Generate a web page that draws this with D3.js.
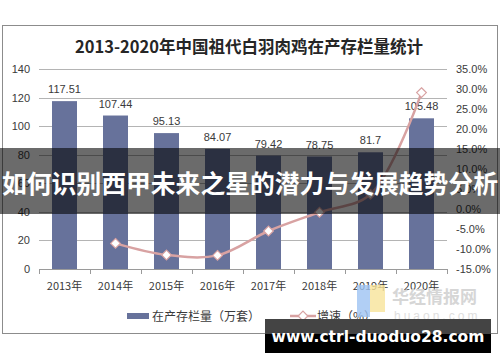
<!DOCTYPE html>
<html>
<head>
<meta charset="utf-8">
<script src="https://cdn.jsdelivr.net/npm/d3@7"></script>
<style>
  html, body { margin: 0; padding: 0; background: #fff; }
  svg { display: block; }
</style>
</head>
<body>
<div id="chart"></div>
<script>
// data
const years = ['2013年', '2014年', '2015年', '2016年', '2017年', '2018年', '2019年', '2020年'];
const stock = [117.51, 107.44, 95.13, 84.07, 79.42, 78.75, 81.7, 105.48];
const growth = [null, -8.6, -11.5, -11.6, -5.5, -0.8, 3.7, 29.1];
const leftTicks = [0, 20, 40, 60, 80, 100, 120, 140];
const rightTicks = [-15, -10, -5, 0, 5, 10, 15, 20, 25, 30, 35];

const width = 500;
const height = 362;
const barColor = '#67729b';
const lineColor = '#d8a2a2';
const textColor = '#3a3a3a';
const latin = 'Liberation Sans, Arial, sans-serif';
const cjk = '"Noto Sans CJK SC", sans-serif';

const svg = d3.select('#chart')
    .append('svg')
    .attr('width', width)
    .attr('height', height);

// outer frame
svg.append('rect')
    .attr('x', 2.5).attr('y', 25.5)
    .attr('width', 495).attr('height', 308)
    .attr('fill', '#fff')
    .attr('stroke', '#8c8c8c');

// title
svg.append('text')
    .attr('x', 249).attr('y', 53)
    .attr('text-anchor', 'middle')
    .style('font-family', cjk)
    .style('font-size', '16.5px')
    .style('font-weight', 'bold')
    .style('fill', '#262626')
    .text('2013-2020年中国祖代白羽肉鸡在产存栏量统计');

// scales
const x = d3.scaleBand().domain(years).range([39, 447]);
const yLeft = d3.scaleLinear().domain([0, 140]).range([269, 69]);
const yRight = d3.scaleLinear().domain([-15, 35]).range([269, 69]);

// gridlines
svg.append('g')
    .selectAll('line')
    .data(leftTicks.filter(d => d > 0))
    .join('line')
    .attr('x1', 39).attr('x2', 447)
    .attr('y1', d => Math.round(yLeft(d)) + 0.5)
    .attr('y2', d => Math.round(yLeft(d)) + 0.5)
    .attr('stroke', '#b4b4b4');

// left axis
const axL = svg.append('g')
    .attr('transform', 'translate(30,0)')
    .call(d3.axisLeft(yLeft).tickValues(leftTicks).tickSize(0).tickPadding(0));
axL.select('.domain').remove();
axL.selectAll('text')
    .style('font-family', latin)
    .style('font-size', '11px')
    .style('fill', textColor);

// right axis
const axR = svg.append('g')
    .attr('transform', 'translate(456,0)')
    .call(d3.axisRight(yRight).tickValues(rightTicks).tickSize(0).tickPadding(0)
        .tickFormat(d => d.toFixed(1) + '%'));
axR.select('.domain').remove();
axR.selectAll('text')
    .style('font-family', latin)
    .style('font-size', '11px')
    .style('fill', textColor);

// bars
const bw = x.bandwidth();
svg.append('g')
    .selectAll('rect')
    .data(stock)
    .join('rect')
    .attr('x', (d, i) => x(years[i]) + bw * 0.255)
    .attr('width', bw * 0.49)
    .attr('y', d => yLeft(d))
    .attr('height', d => yLeft(0) - yLeft(d))
    .attr('fill', barColor);

// bar labels
svg.append('g')
    .selectAll('text')
    .data(stock)
    .join('text')
    .attr('x', (d, i) => x(years[i]) + bw / 2)
    .attr('y', d => yLeft(d) - 8)
    .attr('text-anchor', 'middle')
    .style('font-family', latin)
    .style('font-size', '11px')
    .style('fill', textColor)
    .text(d => d);

// x axis
const axX = svg.append('g')
    .attr('transform', 'translate(0,269)')
    .call(d3.axisBottom(x).tickSize(0).tickPadding(13));
axX.select('.domain').attr('stroke', '#9a9a9a');
axX.selectAll('text')
    .style('font-family', cjk)
    .style('font-size', '11px')
    .style('fill', textColor);
svg.append('g')
    .selectAll('line')
    .data(years.concat(['end']))
    .join('line')
    .attr('x1', (d, i) => Math.round(39 + i * bw) + 0.5)
    .attr('x2', (d, i) => Math.round(39 + i * bw) + 0.5)
    .attr('y1', 269).attr('y2', 274)
    .attr('stroke', '#9a9a9a');

// growth line
const pts = growth.map((g, i) => ({ x: x(years[i]) + bw / 2, g: g }));
const line = d3.line()
    .defined(d => d.g !== null)
    .x(d => d.x)
    .y(d => yRight(d.g))
    .curve(d3.curveCatmullRom);
svg.append('path')
    .datum(pts)
    .attr('d', line)
    .attr('fill', 'none')
    .attr('stroke', lineColor)
    .attr('stroke-width', 2.5);

const diamond = d3.symbol().type(d3.symbolDiamond2).size(60);
svg.append('g')
    .selectAll('path')
    .data(pts.filter(d => d.g !== null))
    .join('path')
    .attr('transform', d => `translate(${d.x},${yRight(d.g)})`)
    .attr('d', diamond)
    .attr('fill', '#fff')
    .attr('stroke', lineColor)
    .attr('stroke-width', 1.2);

// legend
svg.append('rect')
    .attr('x', 127).attr('y', 313)
    .attr('width', 22).attr('height', 6)
    .attr('fill', barColor);
svg.append('text')
    .attr('x', 152).attr('y', 321)
    .style('font-family', cjk)
    .style('font-size', '12px')
    .style('fill', textColor)
    .text('在产存栏量（万套）');
svg.append('line')
    .attr('x1', 290).attr('x2', 316)
    .attr('y1', 316).attr('y2', 316)
    .attr('stroke', lineColor)
    .attr('stroke-width', 2.5);
svg.append('path')
    .attr('transform', 'translate(303,316)')
    .attr('d', diamond)
    .attr('fill', '#fff')
    .attr('stroke', lineColor)
    .attr('stroke-width', 1.2);
svg.append('text')
    .attr('x', 317).attr('y', 321)
    .style('font-family', cjk)
    .style('font-size', '12px')
    .style('fill', textColor)
    .text('增速（%）');

// faint source watermark
svg.append('rect')
    .attr('x', 357).attr('y', 285).attr('width', 13).attr('height', 32)
    .attr('fill', '#9ec3f2').attr('opacity', 0.8);
svg.append('rect')
    .attr('x', 370).attr('y', 285).attr('width', 15).attr('height', 27)
    .attr('fill', '#f7e49a').attr('opacity', 0.8);
svg.append('text')
    .attr('x', 392).attr('y', 303)
    .style('font-family', cjk)
    .style('font-size', '17px')
    .style('font-weight', 'bold')
    .style('fill', '#d6d6d6')
    .text('华经情报网');
svg.append('text')
    .attr('x', 394).attr('y', 320)
    .style('font-family', latin)
    .style('font-size', '12px')
    .style('letter-spacing', '3px')
    .style('fill', '#dedede')
    .text('huaon.com');

// dark banner across the chart
svg.append('rect')
    .attr('x', 0).attr('y', 148)
    .attr('width', width).attr('height', 66)
    .attr('fill', 'rgba(0,0,0,0.58)');
svg.append('text')
    .attr('x', 250).attr('y', 182)
    .attr('text-anchor', 'middle')
    .attr('dominant-baseline', 'central')
    .style('font-family', cjk)
    .style('font-size', '24.8px')
    .style('font-weight', 'bold')
    .style('fill', '#fff')
    .text('如何识别西甲未来之星的潜力与发展趋势分析');

// url box
svg.append('rect')
    .attr('x', 265).attr('y', 319)
    .attr('width', 226).attr('height', 15)
    .attr('fill', '#444');
svg.append('rect')
    .attr('x', 265).attr('y', 334)
    .attr('width', 226).attr('height', 19)
    .attr('fill', '#000');
svg.append('text')
    .attr('x', 378).attr('y', 337)
    .attr('text-anchor', 'middle')
    .attr('dominant-baseline', 'central')
    .style('font-family', '"DejaVu Sans", sans-serif')
    .style('font-size', '15.5px')
    .style('font-weight', 'bold')
    .style('fill', '#fff')
    .text('www.ctrl-duoduo28.com');
</script>
</body>
</html>
